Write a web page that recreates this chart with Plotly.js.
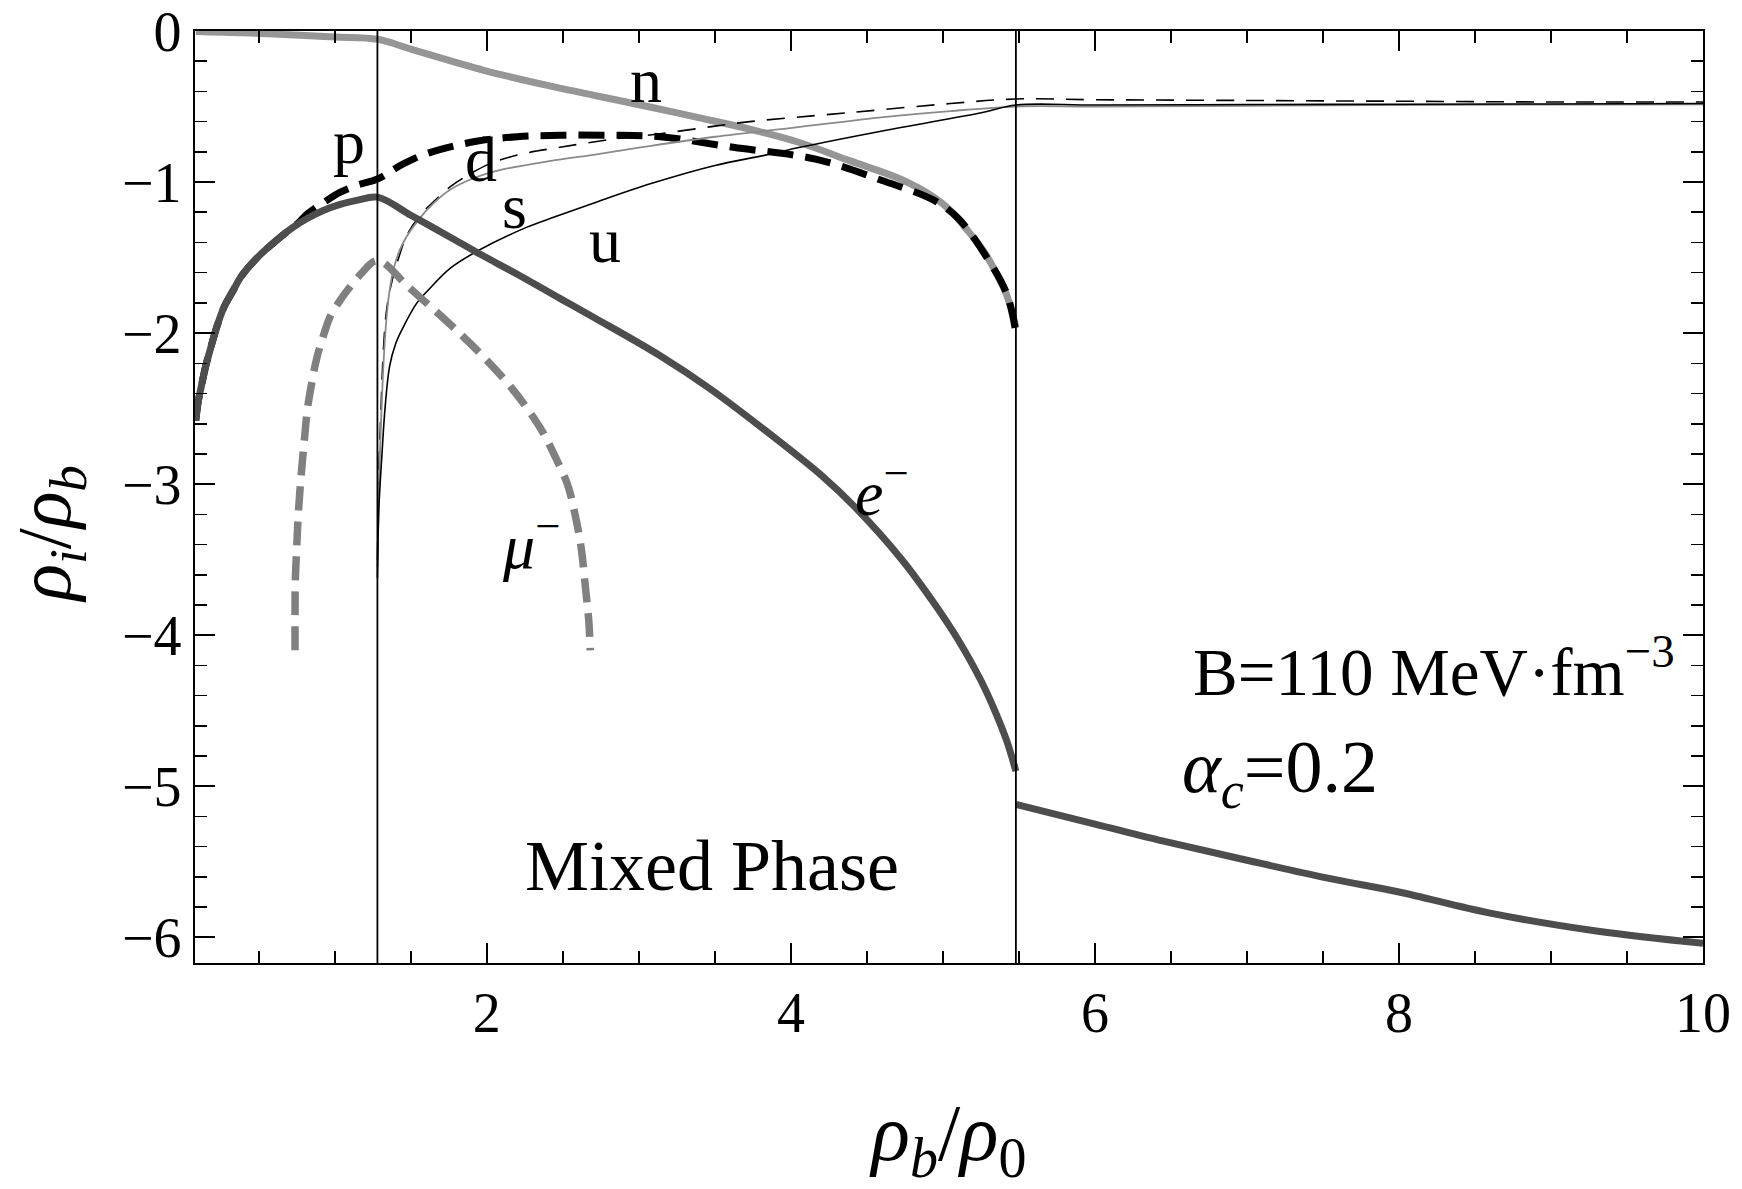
<!DOCTYPE html>
<html>
<head>
<meta charset="utf-8">
<script src="https://cdn.plot.ly/plotly-3.0.1.min.js"></script>
<style>
  html, body { margin: 0; padding: 0; background: #ffffff; }
  #chart { width: 1742px; height: 1189px; }
</style>
</head>
<body>
<div id="chart"></div>
<script>
// Particle fractions log10(rho_i / rho_b) versus baryon density rho_b / rho_0.
// Phase boundaries (hadron / mixed / quark).
const phaseBounds = [1.28, 5.48];

// Electrons: hadronic + mixed branch, then quark-phase branch (null breaks the line).
const eX = [0.085, 0.10, 0.12, 0.15, 0.18, 0.22, 0.27, 0.33, 0.38, 0.49, 0.60, 0.71, 0.82, 0.92, 1.03, 1.15, 1.28,
            1.50, 1.75, 1.96, 2.20, 2.48, 2.71, 3.14, 3.47, 3.80, 4.21, 4.42, 4.73, 4.95, 5.10, 5.25, 5.35, 5.42, 5.48,
            null,
            5.48, 6.00, 6.48, 7.00, 7.54, 8.00, 8.60, 9.31, 10.0];
const eY = [-2.58, -2.46, -2.36, -2.22, -2.11, -1.97, -1.83, -1.72, -1.63, -1.50, -1.40, -1.31, -1.24, -1.19, -1.15, -1.12, -1.10,
            -1.22, -1.36, -1.48, -1.61, -1.77, -1.90, -2.15, -2.37, -2.62, -2.95, -3.15, -3.50, -3.80, -4.03, -4.30, -4.52, -4.70, -4.90,
            null,
            -5.12, -5.25, -5.37, -5.49, -5.61, -5.70, -5.84, -5.96, -6.04];

// Protons (equal to electrons until muons appear).
const pX = [0.085, 0.10, 0.12, 0.15, 0.18, 0.22, 0.27, 0.33, 0.38, 0.49, 0.60, 0.71, 0.76, 0.82, 0.92, 1.03, 1.15, 1.28,
            1.45, 1.61, 1.93, 2.20, 2.48, 2.80, 3.14, 3.62, 4.17, 4.60, 4.94, 5.10, 5.27, 5.42, 5.48];
const pY = [-2.58, -2.46, -2.36, -2.22, -2.11, -1.97, -1.83, -1.72, -1.63, -1.50, -1.40, -1.31, -1.27, -1.21, -1.14, -1.07, -1.02, -0.98,
            -0.88, -0.81, -0.73, -0.70, -0.69, -0.69, -0.70, -0.77, -0.85, -0.99, -1.12, -1.24, -1.47, -1.74, -2.00];

// Neutrons.
const nX = [0.085, 0.40, 0.70, 1.00, 1.28, 1.50, 1.98, 2.42, 2.75, 3.08, 3.40, 3.73, 4.06, 4.39, 4.72, 4.94, 5.05, 5.17, 5.27, 5.36, 5.42, 5.48];
const nY = [-0.003, -0.012, -0.025, -0.04, -0.055, -0.12, -0.26, -0.365, -0.435, -0.505, -0.575, -0.65, -0.74, -0.86, -0.98, -1.10, -1.19, -1.33, -1.46, -1.62, -1.75, -1.96];

// Muons.
const muX = [0.738, 0.738, 0.74, 0.75, 0.76, 0.78, 0.80, 0.82, 0.85, 0.88, 0.93, 0.97, 1.03, 1.08, 1.17, 1.28,
             1.49, 1.82, 2.00, 2.16, 2.28, 2.37, 2.45, 2.53, 2.58, 2.62, 2.65, 2.67, 2.68];
const muY = [-4.10, -3.85, -3.64, -3.40, -3.19, -2.92, -2.70, -2.50, -2.32, -2.17, -2.00, -1.89, -1.79, -1.72, -1.61, -1.52,
             -1.70, -2.00, -2.18, -2.36, -2.52, -2.66, -2.82, -3.00, -3.20, -3.42, -3.70, -3.90, -4.10];

// Quarks u, d, s (mixed and quark phases).
const uX = [1.28, 1.29, 1.31, 1.33, 1.36, 1.40, 1.45, 1.54, 1.61, 1.76, 1.95, 2.26, 2.42, 2.70, 3.08, 3.50, 3.84, 4.06, 4.61, 5.26, 5.48,
            6.0, 7.0, 8.0, 9.0, 10.0];
const uY = [-3.62, -3.15, -2.80, -2.50, -2.22, -2.07, -1.96, -1.80, -1.72, -1.57, -1.45, -1.30, -1.24, -1.14, -1.01, -0.89, -0.82, -0.77, -0.66, -0.54, -0.49,
            -0.49, -0.487, -0.485, -0.483, -0.48];

const dX = [1.28, 1.29, 1.30, 1.32, 1.34, 1.37, 1.42, 1.48, 1.57, 1.65, 1.76, 1.90, 2.04, 2.25, 2.48, 2.80, 3.14, 3.50, 3.73, 4.39, 5.05, 5.48,
            6.0, 7.0, 8.0, 9.0, 10.0];
const dY = [-3.50, -2.90, -2.60, -2.10, -1.85, -1.68, -1.50, -1.34, -1.21, -1.13, -1.03, -0.94, -0.87, -0.81, -0.77, -0.72, -0.68, -0.63, -0.60, -0.54, -0.48, -0.45,
            -0.455, -0.46, -0.465, -0.47, -0.47];

const sX = [1.28, 1.29, 1.30, 1.32, 1.34, 1.36, 1.39, 1.45, 1.55, 1.65, 1.76, 1.90, 2.09, 2.42, 2.70, 3.08, 3.50, 4.02, 4.61, 5.05, 5.48,
            6.0, 7.0, 8.0, 9.0, 10.0];
const sY = [-3.55, -3.00, -2.70, -2.20, -1.90, -1.72, -1.56, -1.40, -1.25, -1.14, -1.05, -0.98, -0.92, -0.86, -0.82, -0.76, -0.70, -0.64, -0.57, -0.53, -0.50,
            -0.50, -0.495, -0.49, -0.487, -0.485];

// Curve labels and their anchor points.
const curveLabels = ['p', 'n', 'd', 's', 'u', '<i>μ</i><sup>−</sup>', '<i>e</i><sup>−</sup>'];
const labelX = [1.09, 3.05, 1.96, 2.18, 2.78, 2.29, 4.60];
const labelY = [-0.73, -0.33, -0.85, -1.16, -1.39, -3.38, -3.03];

const serif = 'Liberation Serif, Times New Roman, serif';

function line(x, y, color, width, dash) {
  return {
    x: x, y: y, type: 'scatter', mode: 'lines',
    line: { color: color, width: width, dash: dash || 'solid', shape: 'spline', smoothing: 1 },
    connectgaps: false, hoverinfo: 'skip', showlegend: false
  };
}

const traces = [
  line(nX, nY, '#969696', 7),
  line(pX, pY, '#000000', 7, '26px,12px'),
  line(dX, dY, '#000000', 1.6, '18px,12px'),
  line(sX, sY, '#8a8a8a', 1.8),
  line(uX, uY, '#000000', 1.6),
  line(eX, eY, '#4d4d4d', 7),
  line(muX, muY, '#808080', 7.5, '24px,11px')
];

const shapes = phaseBounds.map(function (xb) {
  return { type: 'line', xref: 'x', yref: 'paper', x0: xb, x1: xb, y0: 0, y1: 1,
           line: { color: '#000000', width: 1.8 }, layer: 'above' };
});

const annotations = curveLabels.map(function (t, i) {
  return { x: labelX[i], y: labelY[i], xref: 'x', yref: 'y', text: t, showarrow: false,
           font: { family: serif, size: 64, color: '#000000' } };
});
annotations.push(
  { x: 3.48, y: -5.53, xref: 'x', yref: 'y', text: 'Mixed Phase', showarrow: false,
    font: { family: serif, size: 72, color: '#000000' } },
  { x: 6.63, y: -4.21, xref: 'x', yref: 'y', xanchor: 'left', text: 'B=110 MeV·fm<sup>−3</sup>', showarrow: false,
    font: { family: serif, size: 67, color: '#000000' } },
  { x: 6.56, y: -4.91, xref: 'x', yref: 'y', xanchor: 'left', text: '<i>α</i><sub><i>c</i></sub>=0.2', showarrow: false,
    font: { family: serif, size: 74, color: '#000000' } },
  // vertical axis title
  { x: -0.096, y: 0.46, xref: 'paper', yref: 'paper', xanchor: 'center', yanchor: 'middle',
    textangle: -90, showarrow: false,
    text: '<i>ρ</i><sub><i>i</i></sub>/<i>ρ</i><sub><i>b</i></sub>',
    font: { family: serif, size: 76, color: '#000000' } }
);

const axisCommon = {
  ticks: 'inside', ticklen: 20, tickwidth: 2, tickcolor: '#000000',
  showline: true, linewidth: 2.2, linecolor: '#000000', mirror: 'ticks',
  showgrid: false, zeroline: false,
  tickfont: { family: serif, size: 56, color: '#000000' }
};

const layout = {
  width: 1742, height: 1189,
  margin: { l: 195, r: 39, t: 31, b: 226 },
  paper_bgcolor: '#ffffff', plot_bgcolor: '#ffffff',
  xaxis: Object.assign({}, axisCommon, {
    range: [0.08, 10], tick0: 0, dtick: 2,
    minor: { dtick: 0.5, ticklen: 12, tickwidth: 1.6, tickcolor: '#000000', ticks: 'inside', showgrid: false },
    title: { text: '<i>ρ</i><sub><i>b</i></sub>/<i>ρ</i><sub>0</sub>', standoff: 103,
             font: { family: serif, size: 80, color: '#000000' } }
  }),
  yaxis: Object.assign({}, axisCommon, {
    range: [-6.17, 0], tick0: 0, dtick: 1,
    minor: { dtick: 0.2, ticklen: 12, tickwidth: 1.6, tickcolor: '#000000', ticks: 'inside', showgrid: false }
  }),
  shapes: shapes,
  annotations: annotations,
  showlegend: false
};

Plotly.newPlot('chart', traces, layout, { displayModeBar: false, staticPlot: true });
</script>
</body>
</html>
